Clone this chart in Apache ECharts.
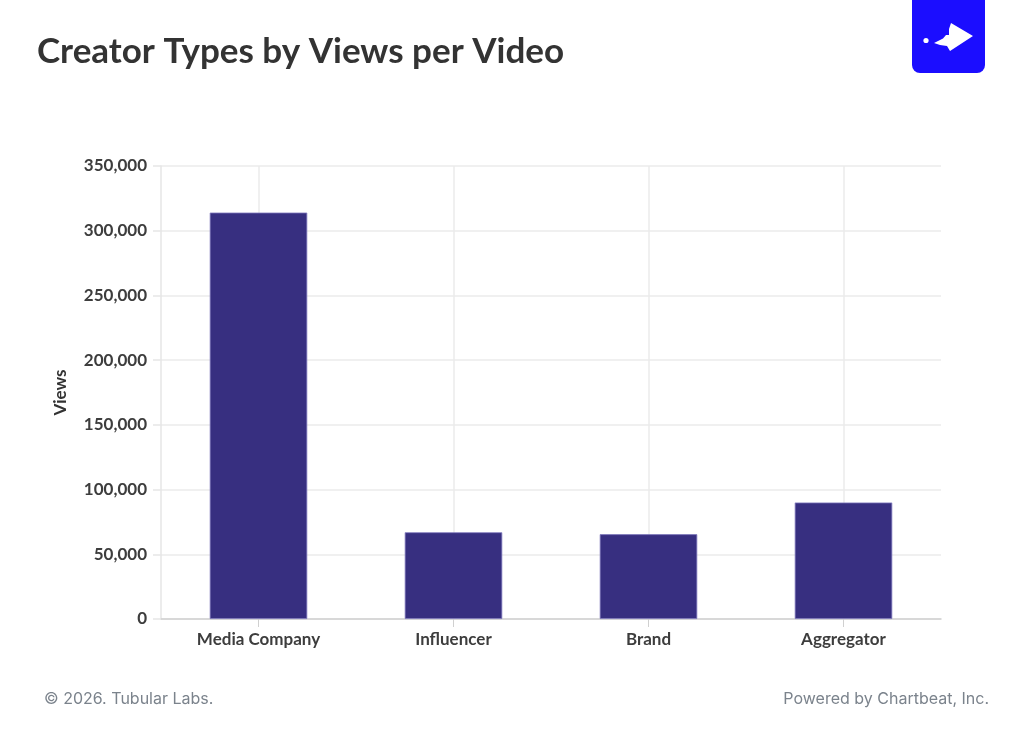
<!DOCTYPE html>
<html><head><meta charset="utf-8">
<script src="https://cdn.jsdelivr.net/npm/echarts@6/dist/echarts.min.js"></script>
<style>html,body{margin:0;padding:0;background:#fff}#c{width:1024px;height:736px}</style>
</head><body><div id="c"></div>
<script>
const categories = ['Media Company', 'Influencer', 'Brand', 'Aggregator'];
const viewsPerVideo = [314000, 67000, 65500, 90000];
const yTicks = { min: 0, max: 350000, interval: 50000 };
const titleText = 'Creator Types by Views per Video';
const yAxisName = 'Views';
const footerLeft = '\u00a9 2026. Tubular Labs.';
const footerRight = 'Powered by Chartbeat, Inc.';

const chart = echarts.init(document.getElementById('c'), null, {renderer: 'canvas'});
const labelFont = {fontFamily: 'Lato', fontWeight: 700, fontSize: 17, color: '#3d3d3d'};
chart.setOption({
  backgroundColor: '#fff',
  animation: false,
  grid: {left: 161, right: 83, top: 166, bottom: 117, containLabel: false},
  xAxis: {
    type: 'category', data: categories,
    axisLine: {show: true, lineStyle: {color: '#d0d0d0', width: 1.5}},
    axisTick: {show: true, alignWithLabel: true, length: 8, lineStyle: {color: '#d0d0d0'}},
    axisLabel: Object.assign({margin: 12}, labelFont),
    splitLine: {show: true, alignWithLabel: true, lineStyle: {color: '#ebebeb', width: 1.5}}
  },
  yAxis: {
    type: 'value', min: yTicks.min, max: yTicks.max, interval: yTicks.interval,
    name: yAxisName, nameLocation: 'middle', nameRotate: 90, nameGap: 92,
    nameTextStyle: {fontFamily: 'Lato', fontWeight: 700, fontSize: 17, color: '#333'},
    axisLine: {show: true, lineStyle: {color: '#e6e6e6', width: 1.5}},
    axisTick: {show: true, length: 8, lineStyle: {color: '#e6e6e6', width: 1.5}},
    axisLabel: Object.assign({margin: 14, formatter: v => v.toLocaleString('en-US')}, labelFont),
    splitLine: {show: true, lineStyle: {color: '#ebebeb', width: 1.5}}
  },
  series: [{
    type: 'bar', data: viewsPerVideo, barWidth: '50%',
    itemStyle: {color: '#372f80', borderColor: '#7f78bd', borderWidth: 0.8}
  }],
  graphic: [
    {type: 'text', left: 37, top: 34, style: {text: titleText, font: '700 35px Lato', fill: '#333'}},
    {type: 'text', left: 44, top: 691, style: {text: footerLeft, font: '400 16px Inter', fill: '#7b838c'}},
    {type: 'text', right: 35, top: 691, style: {text: footerRight, font: '400 16px Inter', fill: '#7b838c'}},
    {type: 'rect', shape: {x: 912, y: -10, width: 73, height: 83, r: [0, 0, 8, 8]}, style: {fill: '#1b0dff'}},
    {type: 'circle', shape: {cx: 926, cy: 40.5, r: 2.6}, style: {fill: '#fff'}},
    {type: 'polygon', shape: {points: [[934, 43], [943, 38.5], [946, 35], [949, 35], [949, 29], [951, 23], [973, 36], [950, 51], [947, 46], [940, 45]]}, style: {fill: '#fff'}}
  ]
});
</script></body></html>
